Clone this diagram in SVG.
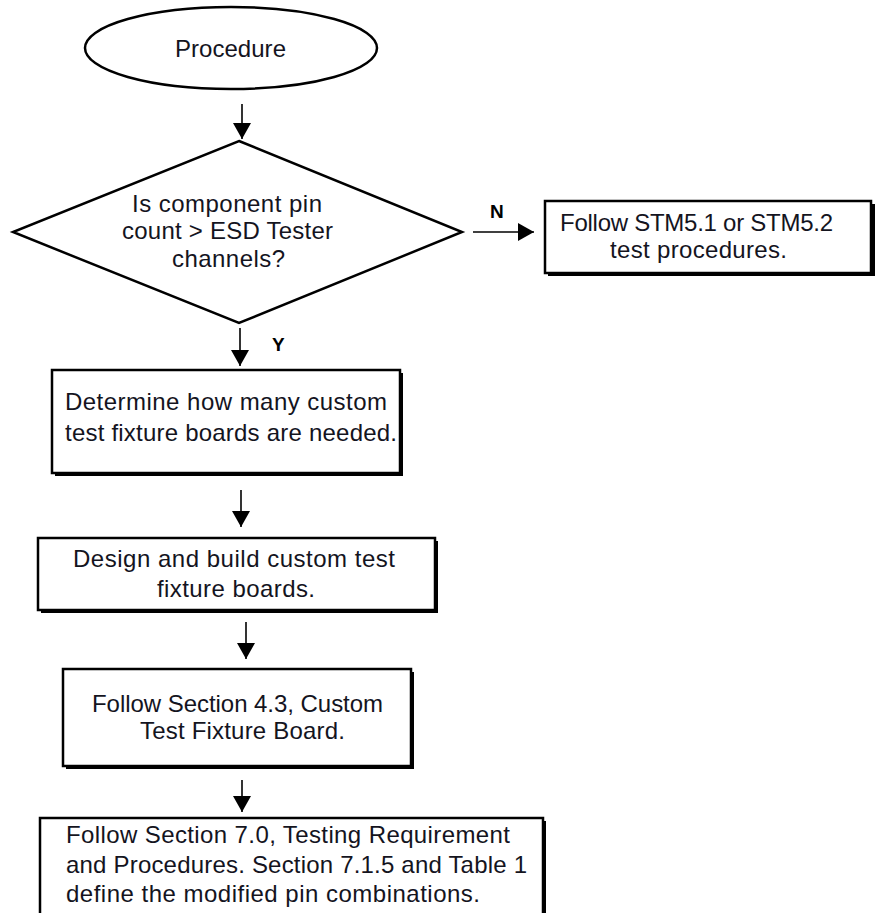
<svg xmlns="http://www.w3.org/2000/svg" width="875" height="913" viewBox="0 0 875 913">
<defs>
<marker id="ah" markerUnits="userSpaceOnUse" markerWidth="17" markerHeight="20" refX="16" refY="10" orient="auto">
<path d="M0,1 L16,10 L0,19 z" fill="#000"/>
</marker>
<style>
.t{font-family:"Liberation Sans",Arial,sans-serif;font-size:24px;fill:#14141e}
.lb{font-family:"Liberation Sans",Arial,sans-serif;font-size:19px;font-weight:bold;fill:#000}
.shape{fill:#fff;stroke:#000;stroke-width:2.5}
.sh{fill:#000}
.conn{stroke:#000;stroke-width:1.6;fill:none;marker-end:url(#ah)}
</style>
</defs>
<rect width="875" height="913" fill="#fff"/>
<g id="connectors">
<line class="conn" x1="242" y1="104" x2="242" y2="139"/>
<line class="conn" x1="473" y1="232" x2="534" y2="232"/>
<line class="conn" x1="240" y1="328" x2="240" y2="366"/>
<line class="conn" x1="241" y1="490" x2="241" y2="527"/>
<line class="conn" x1="246" y1="622" x2="246" y2="659"/>
<line class="conn" x1="242" y1="780" x2="242" y2="812"/>
<text class="lb" x="490" y="218">N</text>
<text class="lb" x="272" y="351">Y</text>
</g>
<g id="start">
<ellipse class="shape" cx="231" cy="48" rx="146" ry="41" stroke-width="3"/>
<text class="t" x="175" y="57" textLength="111" lengthAdjust="spacing">Procedure</text>
</g>
<g id="decision">
<polygon class="shape" points="239,141 462,232 239,323 13,232" stroke-width="3"/>
<text class="t" x="132" y="212" textLength="190" lengthAdjust="spacing">Is component pin</text>
<text class="t" x="122" y="239" textLength="211" lengthAdjust="spacing">count &gt; ESD Tester</text>
<text class="t" x="172" y="267" textLength="113" lengthAdjust="spacing">channels?</text>
</g>
<g id="stm">
<rect class="sh" x="548" y="204" width="327" height="72"/>
<rect class="shape" x="545" y="201" width="326" height="72"/>
<text class="t" x="560" y="231" textLength="273" lengthAdjust="spacing">Follow STM5.1 or STM5.2</text>
<text class="t" x="610" y="258" textLength="177" lengthAdjust="spacing">test procedures.</text>
</g>
<g id="determine">
<rect class="sh" x="55" y="373" width="348" height="103"/>
<rect class="shape" x="52" y="370" width="348" height="103"/>
<text class="t" x="65" y="410" textLength="322" lengthAdjust="spacing">Determine how many custom</text>
<text class="t" x="65" y="441" textLength="332" lengthAdjust="spacing">test fixture boards are needed.</text>
</g>
<g id="design">
<rect class="sh" x="41" y="541" width="397" height="72"/>
<rect class="shape" x="38" y="538" width="397" height="72"/>
<text class="t" x="73" y="567" textLength="322" lengthAdjust="spacing">Design and build custom test</text>
<text class="t" x="157" y="597" textLength="158" lengthAdjust="spacing">fixture boards.</text>
</g>
<g id="section43">
<rect class="sh" x="66" y="672" width="348" height="97"/>
<rect class="shape" x="63" y="669" width="348" height="97"/>
<text class="t" x="92" y="712" textLength="291" lengthAdjust="spacing">Follow Section 4.3, Custom</text>
<text class="t" x="140" y="739" textLength="205" lengthAdjust="spacing">Test Fixture Board.</text>
</g>
<g id="section70">
<rect class="sh" x="43" y="821" width="503" height="120"/>
<rect class="shape" x="40" y="818" width="503" height="120"/>
<text class="t" x="66" y="843" textLength="444" lengthAdjust="spacing">Follow Section 7.0, Testing Requirement</text>
<text class="t" x="66" y="873" textLength="461" lengthAdjust="spacing">and Procedures. Section 7.1.5 and Table 1</text>
<text class="t" x="66" y="902" textLength="414" lengthAdjust="spacing">define the modified pin combinations.</text>
</g>
</svg>
